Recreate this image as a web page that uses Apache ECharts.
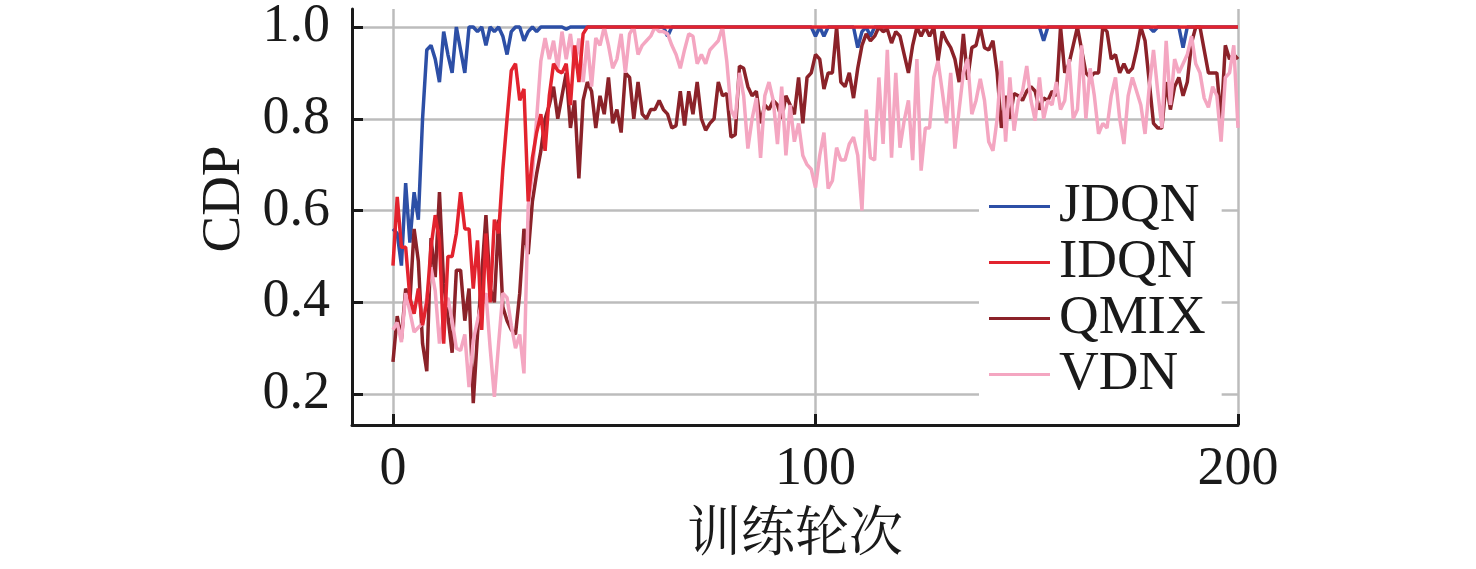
<!DOCTYPE html>
<html>
<head>
<meta charset="utf-8">
<script src="https://cdn.jsdelivr.net/npm/echarts@6/dist/echarts.min.js"></script>
<style>
html,body{margin:0;padding:0;background:#fff;}
#chart{width:1476px;height:569px;}
</style>
</head>
<body>
<div id="chart"></div>
<script>
const seriesNames = ['JDQN', 'IDQN', 'QMIX', 'VDN'];
const xTicks = [0, 100, 200];
const yTicks = [0.2, 0.4, 0.6, 0.8, 1.0];

const jdqn = [
0.56,0.55,0.48,0.66,0.53,0.64,0.58,0.80,0.95,0.96,
0.93,0.88,0.99,0.94,0.90,1.00,0.95,0.90,1.00,1.00,
0.99,1.00,0.96,1.00,0.99,1.00,0.98,0.94,0.99,1.00,
1.00,0.97,0.99,1.00,0.99,1.00,1.00,1.00,1.00,1.00,
1.00,0.995,1.00,1.00,1.00,1.00,1.00,1.00,1.00,1.00,
1.00,1.00,1.00,1.00,1.00,1.00,1.00,1.00,1.00,1.00,
1.00,1.00,1.00,1.00,1.00,0.98,1.00,1.00,1.00,1.00,
1.00,1.00,1.00,1.00,1.00,1.00,1.00,1.00,1.00,1.00,
1.00,1.00,1.00,1.00,1.00,1.00,1.00,1.00,1.00,1.00,
1.00,1.00,1.00,1.00,1.00,1.00,1.00,1.00,1.00,1.00,
0.98,1.00,0.98,1.00,1.00,1.00,1.00,1.00,1.00,1.00,
0.955,0.99,1.00,0.98,1.00,1.00,1.00,1.00,1.00,1.00,
1.00,1.00,1.00,1.00,1.00,1.00,1.00,1.00,1.00,1.00,
1.00,1.00,1.00,1.00,1.00,1.00,1.00,1.00,1.00,1.00,
1.00,1.00,1.00,1.00,1.00,1.00,1.00,1.00,1.00,1.00,
1.00,1.00,1.00,1.00,0.97,1.00,1.00,1.00,1.00,1.00,
1.00,1.00,1.00,1.00,1.00,1.00,1.00,1.00,1.00,1.00,
1.00,1.00,1.00,1.00,1.00,1.00,1.00,1.00,1.00,1.00,
0.99,1.00,1.00,1.00,1.00,1.00,1.00,0.955,1.00,1.00,
1.00,1.00,1.00,1.00,1.00,1.00,1.00,1.00,1.00,1.00,
1.00
];

const idqn = [
0.48,0.63,0.52,0.52,0.41,0.375,0.43,0.35,0.40,0.52,
0.59,0.535,0.31,0.50,0.50,0.55,0.64,0.56,0.56,0.43,
0.535,0.34,0.55,0.40,0.58,0.55,0.69,0.80,0.905,0.92,
0.84,0.865,0.62,0.715,0.77,0.81,0.73,0.85,0.92,0.905,
0.90,0.92,0.83,0.96,0.88,0.985,1.00,1.00,1.00,1.00,
1.00,1.00,1.00,1.00,1.00,1.00,1.00,1.00,1.00,1.00,
1.00,1.00,1.00,1.00,1.00,1.00,1.00,1.00,1.00,1.00,
1.00,1.00,1.00,1.00,1.00,1.00,1.00,1.00,1.00,1.00,
1.00,1.00,1.00,1.00,1.00,1.00,1.00,1.00,1.00,1.00,
1.00,1.00,1.00,1.00,1.00,1.00,1.00,1.00,1.00,1.00,
1.00,1.00,1.00,1.00,1.00,1.00,1.00,1.00,1.00,1.00,
1.00,1.00,1.00,1.00,1.00,1.00,1.00,1.00,1.00,1.00,
1.00,1.00,1.00,1.00,1.00,1.00,1.00,1.00,1.00,1.00,
1.00,1.00,1.00,1.00,1.00,1.00,1.00,1.00,1.00,1.00,
1.00,1.00,1.00,1.00,1.00,1.00,1.00,1.00,1.00,1.00,
1.00,1.00,1.00,1.00,1.00,1.00,1.00,1.00,1.00,1.00,
1.00,1.00,1.00,1.00,1.00,1.00,1.00,1.00,1.00,1.00,
1.00,1.00,1.00,1.00,1.00,1.00,1.00,1.00,1.00,1.00,
1.00,1.00,1.00,1.00,1.00,1.00,1.00,1.00,1.00,1.00,
1.00,1.00,1.00,1.00,1.00,1.00,1.00,1.00,1.00,1.00,
1.00
];

const qmix = [
0.27,0.37,0.32,0.43,0.40,0.56,0.49,0.31,0.25,0.54,
0.455,0.64,0.44,0.37,0.29,0.47,0.47,0.36,0.43,0.18,
0.33,0.46,0.59,0.43,0.40,0.58,0.39,0.36,0.34,0.33,
0.42,0.56,0.505,0.62,0.68,0.73,0.80,0.83,0.87,0.80,
0.85,0.90,0.78,0.84,0.67,0.84,0.88,0.86,0.78,0.85,
0.81,0.89,0.79,0.82,0.77,0.90,0.89,0.80,0.88,0.81,
0.80,0.82,0.82,0.84,0.82,0.81,0.78,0.785,0.86,0.785,
0.86,0.81,0.88,0.80,0.775,0.79,0.80,0.88,0.85,0.855,
0.76,0.765,0.915,0.91,0.87,0.85,0.86,0.79,0.83,0.82,
0.84,0.83,0.80,0.85,0.83,0.81,0.89,0.79,0.89,0.90,
0.94,0.93,0.865,0.90,0.90,1.00,0.88,0.87,0.90,0.845,
0.91,0.96,0.985,0.97,0.98,1.00,0.99,0.995,0.965,0.99,
0.98,0.94,0.90,0.96,1.00,0.98,1.00,0.98,1.00,0.926,
0.99,0.97,0.955,0.93,0.88,0.985,0.885,0.955,0.96,1.00,
0.955,0.95,0.97,0.90,0.78,0.85,0.80,0.855,0.85,0.84,
0.86,0.87,0.86,0.82,0.845,0.84,0.86,0.85,1.00,0.90,
0.92,0.96,1.00,0.95,0.90,0.89,0.90,0.90,1.00,0.99,
0.93,0.94,0.90,0.92,0.90,0.91,0.95,1.00,0.97,0.88,
0.79,0.78,0.78,0.88,0.82,0.87,0.89,0.85,0.88,0.965,
1.00,1.00,0.95,0.90,0.90,0.90,0.796,0.96,0.93,0.94,
0.93
];

const vdn = [
0.34,0.356,0.313,0.42,0.38,0.335,0.345,0.354,0.41,0.476,
0.425,0.31,0.37,0.41,0.36,0.30,0.295,0.33,0.215,0.317,
0.36,0.40,0.42,0.30,0.194,0.31,0.42,0.41,0.35,0.30,
0.33,0.245,0.61,0.68,0.80,0.926,0.976,0.93,0.97,0.91,
0.99,0.93,0.985,0.91,0.975,0.88,0.97,0.87,0.976,0.96,
1.00,0.96,0.91,0.93,0.985,0.90,0.985,1.00,0.94,0.96,
0.97,0.98,1.00,0.99,0.99,0.985,0.96,0.94,0.91,0.95,
0.985,0.98,0.92,0.94,0.92,0.95,0.96,0.97,1.00,0.926,
0.82,0.80,0.90,0.85,0.735,0.80,0.845,0.715,0.85,0.88,
0.84,0.745,0.87,0.72,0.83,0.75,0.79,0.72,0.70,0.69,
0.65,0.72,0.77,0.648,0.665,0.737,0.71,0.71,0.745,0.76,
0.72,0.60,0.82,0.715,0.71,0.89,0.745,0.95,0.715,0.90,
0.737,0.796,0.84,0.71,0.93,0.687,0.78,0.78,0.89,0.926,
0.86,0.79,0.90,0.735,0.82,0.90,0.93,0.81,0.84,0.887,
0.84,0.75,0.73,0.80,0.926,0.75,0.89,0.774,0.84,0.86,
0.915,0.84,0.796,0.89,0.80,0.84,0.83,0.88,0.82,0.84,
0.93,0.80,0.82,0.96,0.80,0.91,0.85,0.767,0.79,0.78,
0.85,0.89,0.80,0.745,0.85,0.89,0.86,0.83,0.767,0.87,
0.95,0.86,0.78,0.97,0.83,0.93,0.90,0.92,0.94,0.98,
0.92,0.90,0.845,0.825,0.87,0.85,0.75,0.89,0.90,0.96,
0.78
];

const colors = {JDQN:'#2d4fa6', IDQN:'#e2232e', QMIX:'#8b2229', VDN:'#f4a6c1'};
const dataMap = {JDQN:jdqn, IDQN:idqn, QMIX:qmix, VDN:vdn};
const drawOrder = ['JDQN','QMIX','VDN','IDQN'];

const chart = echarts.init(document.getElementById('chart'), null, {renderer:'canvas'});
const serif = '"Liberation Serif","Times New Roman",serif';
const option = {
  animation:false,
  backgroundColor:'#ffffff',
  grid:{left:352, right:238, top:8, bottom:144, containLabel:false},
  legend:{
    data:seriesNames,
    orient:'vertical',
    left:979, top:167,
    backgroundColor:'#ffffff',
    padding:[12,16,12,10],
    icon:'rect',
    itemWidth:61, itemHeight:3, itemGap:1,
    textStyle:{fontFamily:serif, fontSize:55, color:'#1a1a1a', padding:[0,0,0,4]},
  },
  xAxis:{
    type:'value', min:-9.7, max:200,
    axisLine:{show:true, onZero:false, lineStyle:{color:'#1a1a1a', width:3}},
    axisTick:{show:true, inside:true, length:11, customValues:xTicks, lineStyle:{color:'#1a1a1a', width:3}},
    axisLabel:{customValues:xTicks, fontFamily:serif, fontSize:54, color:'#1a1a1a', margin:18},
    splitLine:{show:true, lineStyle:{color:'#bcbcbc', width:2.5}},
    name:'训练轮次', nameLocation:'middle', nameGap:78,
    nameTextStyle:{fontFamily:'"Noto Serif CJK SC","Noto Sans CJK SC",serif', fontSize:54, color:'#1a1a1a'}
  },
  yAxis:{
    type:'value', min:0.1326, max:1.039,
    axisLine:{show:true, onZero:false, lineStyle:{color:'#1a1a1a', width:3}},
    axisTick:{show:true, inside:true, length:11, customValues:yTicks, lineStyle:{color:'#1a1a1a', width:3}},
    axisLabel:{customValues:yTicks, fontFamily:serif, fontSize:54, color:'#1a1a1a', margin:22,
      formatter:function(v){return Number(v).toFixed(1);}},
    splitLine:{show:true, lineStyle:{color:'#bcbcbc', width:2.5}},
    name:'CDP', nameLocation:'middle', nameGap:99,
    nameTextStyle:{fontFamily:serif, fontSize:55, color:'#1a1a1a', padding:[0,0,0,36]}
  },
  series: drawOrder.map(function(name){
    return {
      name:name, type:'line', symbol:'none', showSymbol:false,
      data: dataMap[name].map(function(v,i){return [i, v];}),
      lineStyle:{color:colors[name], width:3.5},
      itemStyle:{color:colors[name]},
      emphasis:{disabled:true}
    };
  })
};
chart.setOption(option);
</script>
</body>
</html>
